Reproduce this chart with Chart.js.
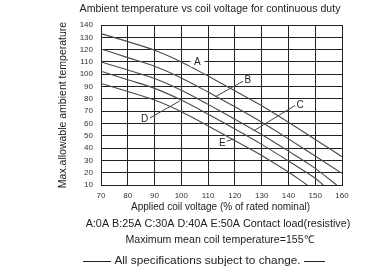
<!DOCTYPE html>
<html>
<head>
<meta charset="utf-8">
<script src="https://cdn.jsdelivr.net/npm/chart.js@4/dist/chart.umd.min.js"></script>
<style>
  body { margin: 0; background: #fff; }
  #wrap { width: 370px; height: 278px; }
</style>
</head>
<body>
<div id="wrap"><canvas id="mycanvas" width="370" height="278"></canvas></div>
<script>
// values: coil voltage (%) vs max ambient temperature (C)
var voltA = [70, 80, 90, 100, 110, 120, 130, 140, 150, 160];
var tempA = [133, 126.5, 119.5, 110, 98.5, 86.5, 74.4, 61, 47, 33];
var voltB = [70, 80, 90, 100, 110, 120, 130, 140, 150, 160];
var tempB = [120.5, 113.5, 106.5, 97, 85.5, 73.5, 61, 47.5, 33.5, 19.5];
var voltC = [70, 80, 90, 100, 110, 120, 130, 140, 150, 158];
var tempC = [110, 103.5, 96.5, 87, 75.5, 63.5, 51, 37.5, 23.5, 10];
var voltD = [70, 80, 90, 100, 110, 120, 130, 140, 150, 153];
var tempD = [102.5, 95.5, 88.5, 79, 67.5, 55.5, 43, 29.5, 15.5, 10];
var voltE = [70, 80, 90, 100, 110, 120, 130, 140, 147];
var tempE = [92.5, 86, 79, 69.5, 58, 46, 34, 20.5, 10];

var curveNames = ["A", "B", "C", "D", "E"];
var chartTitle = "Ambient temperature vs coil voltage for continuous duty";
var xTitle = "Applied coil voltage (% of rated nominal)";
var noteLines = [
  "A:0A B:25A C:30A D:40A E:50A Contact load(resistive)",
  "Maximum mean coil temperature=155\u2103",
  "All specifications subject to change."
];

function toPoints(xs, ys) {
  var pts = [];
  for (var i in xs) {
    pts.push({ x: xs[i], y: ys[i] });
  }
  return pts;
}

var allCurves = [[voltA, tempA], [voltB, tempB], [voltC, tempC], [voltD, tempD], [voltE, tempE]];
var datasets = [];
for (var i in allCurves) {
  datasets.push({
    label: curveNames[i],
    data: toPoints(allCurves[i][0], allCurves[i][1]),
    borderColor: "#4a4a4a",
    borderWidth: 1.1,
    pointRadius: 0,
    fill: false,
    tension: 0.3
  });
}

// curve labels and their leader lines, in data units
var labelSpots = [
  { t: "A", x: 106, y: 110, box: true },
  { t: "B", x: 124.8, y: 94.8, from: [123, 94.3], to: [112.8, 81.8] },
  { t: "C", x: 144.4, y: 75, from: [142.5, 74.7], to: [127, 54] },
  { t: "D", x: 86.3, y: 63.5, from: [88.3, 64.5], to: [99.4, 78.3] },
  { t: "E", x: 115.3, y: 44.3, from: [117, 45.6], to: [119.6, 47.4] }
];

var fontName = "'Liberation Sans', Arial, sans-serif";

var extras = {
  id: "extras",
  afterDatasetsDraw: function (chart) {
    var c = chart.ctx, xs = chart.scales.x, ys = chart.scales.y;
    c.save();
    c.font = "10px " + fontName;
    c.textAlign = "center";
    c.textBaseline = "middle";
    for (var i in labelSpots) {
      var s = labelSpots[i];
      var px = xs.getPixelForValue(s.x), py = ys.getPixelForValue(s.y);
      if (s.box) {
        c.fillStyle = "#fff";
        c.fillRect(px - 7, py - 5, 14, 10);
      }
      if (s.from) {
        c.strokeStyle = "#444";
        c.lineWidth = 1;
        c.beginPath();
        c.moveTo(xs.getPixelForValue(s.from[0]), ys.getPixelForValue(s.from[1]));
        c.lineTo(xs.getPixelForValue(s.to[0]), ys.getPixelForValue(s.to[1]));
        c.stroke();
      }
      c.fillStyle = "#222";
      c.fillText(s.t, px, py);
    }
    c.restore();
  },
  afterDraw: function (chart) {
    var c = chart.ctx;
    var mid = (chart.chartArea.left + chart.chartArea.right) / 2;
    c.save();
    c.fillStyle = "#222";
    c.textAlign = "center";
    c.textBaseline = "middle";
    c.font = "10.6px " + fontName;
    c.fillText(chartTitle, 210, 9);
    c.font = "10px " + fontName;
    c.fillText(xTitle, mid - 1, 207);
    c.font = "10.8px " + fontName;
    c.fillText(noteLines[0], 218, 224);
    c.font = "10.6px " + fontName;
    c.fillText(noteLines[1], 220, 240);
    c.font = "11.8px " + fontName;
    c.fillText(noteLines[2], 207.5, 261);
    // short rules either side of the footer text
    c.strokeStyle = "#222";
    c.lineWidth = 1;
    c.beginPath();
    c.moveTo(83, 261.5); c.lineTo(111, 261.5);
    c.moveTo(304, 261.5); c.lineTo(325, 261.5);
    c.stroke();
    c.restore();
  }
};

var ctx = document.getElementById("mycanvas");
var chart = new Chart(ctx, {
  type: "line",
  data: { datasets: datasets },
  plugins: [extras],
  options: {
    responsive: false,
    animation: false,
    layout: { padding: { left: 55, right: 28, top: 25, bottom: 76 } },
    plugins: {
      legend: { display: false },
      tooltip: { enabled: false },
      title: { display: false }
    },
    scales: {
      x: {
        type: "linear",
        min: 70,
        max: 160,
        afterFit: function (scale) { scale.height = 17; },
        ticks: { stepSize: 10, autoSkip: false, color: "#333", padding: 6, font: { family: fontName, size: 8 } },
        grid: { color: "#222", lineWidth: 1, drawTicks: false },
        border: { color: "#222" }
      },
      y: {
        min: 10,
        max: 140,
        afterFit: function (scale) { scale.width = 46; },
        ticks: { stepSize: 10, autoSkip: false, color: "#333", padding: 8, font: { family: fontName, size: 8 } },
        grid: { color: "#222", lineWidth: 1, drawTicks: false },
        border: { color: "#222" },
        title: {
          display: true,
          text: "Max.allowable ambient temperature",
          color: "#222",
          font: { family: fontName, size: 10.5 },
          padding: { top: 2, bottom: 4 }
        }
      }
    }
  }
});
</script>
</body>
</html>
